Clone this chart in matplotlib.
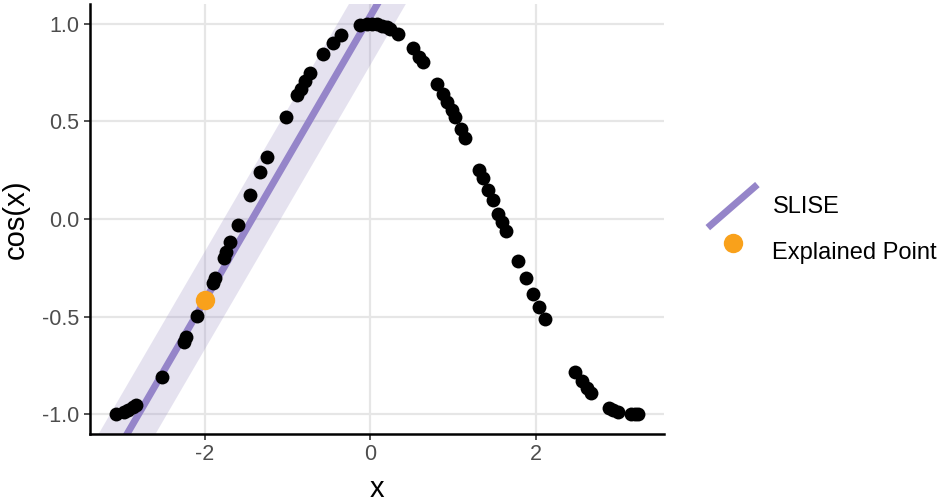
import matplotlib
matplotlib.use("Agg")
import matplotlib.pyplot as plt
from matplotlib.legend_handler import HandlerBase
from matplotlib.lines import Line2D
import numpy as np

plt.rcParams['font.family'] = ['Liberation Sans', 'DejaVu Sans']
plt.rcParams['axes.unicode_minus'] = False

# données
x_vals = [-3.07, -2.98, -2.92, -2.86, -2.83, -2.515, -2.25, -2.22, -2.09,
          -1.905, -1.877, -1.77, -1.74, -1.69, -1.60, -1.45, -1.33, -1.25, -1.02,
          -0.88, -0.84, -0.79, -0.73, -0.57, -0.45, -0.35, -0.12, -0.04,
          0.02, 0.08, 0.14, 0.20, 0.24, 0.33, 0.51, 0.59, 0.64, 0.81,
          0.875, 0.93, 0.98, 1.02, 1.095, 1.14, 1.315, 1.36, 1.42, 1.475,
          1.545, 1.585, 1.635, 1.785, 1.875, 1.965, 2.04, 2.105,
          2.47, 2.55, 2.61, 2.67, 2.88, 2.93, 2.99, 3.15, 3.19, 3.23]
y_vals = [-0.997, -0.987, -0.976, -0.962, -0.952, -0.809, -0.628, -0.605, -0.496,
          -0.328, -0.302, -0.198, -0.168, -0.119, -0.029, 0.121, 0.238, 0.315, 0.523,
          0.637, 0.667, 0.704, 0.745, 0.842, 0.900, 0.939, 0.993, 0.999,
          1.0, 0.997, 0.990, 0.980, 0.971, 0.946, 0.873, 0.831, 0.802, 0.689,
          0.641, 0.598, 0.557, 0.523, 0.458, 0.416, 0.253, 0.209, 0.150, 0.095,
          0.026, -0.014, -0.064, -0.213, -0.300, -0.384, -0.452, -0.510,
          -0.783, -0.830, -0.863, -0.891, -0.967, -0.978, -0.988, -1.0, -0.999, -0.997]

# point expliqué et modèle SLISE
explained_x = -2.0
explained_y = -0.416
slise_intercept = 1.038
slise_slope = 0.728
slise_epsilon = 0.25

xticks = [-2, 0, 2]
yticks = [-1.0, -0.5, 0.0, 0.5, 1.0]

purple = '#9585c9'
band_color = '#998ec3'
orange = '#f9a11b'


class DiagonalHandler(HandlerBase):
    # clé de légende en diagonale, comme geom_abline
    def create_artists(self, legend, orig_handle, xdescent, ydescent,
                       width, height, fontsize, trans):
        l = Line2D([-xdescent, -xdescent + width], [-ydescent, -ydescent + height],
                   color=orig_handle.get_color(), lw=orig_handle.get_linewidth(),
                   solid_capstyle='butt')
        l.set_transform(trans)
        return [l]


fig = plt.figure(figsize=(9.45, 5.04), dpi=100)
ax = fig.add_axes([0.0952, 0.139, 0.6074, 0.853])

xs = np.array([-5.0, 5.0])
ys = slise_intercept + slise_slope * xs
ax.fill_between(xs, ys - slise_epsilon, ys + slise_epsilon, color=band_color,
                alpha=0.25, lw=0, zorder=1)
slise_line, = ax.plot(xs, ys, color=purple, lw=5, solid_capstyle='butt',
                      zorder=2, label='SLISE')

ax.scatter(x_vals, y_vals, s=100, color='black', lw=0, zorder=3)
expl = ax.scatter([explained_x], [explained_y], s=195, color=orange, lw=0,
                  zorder=4, label='Explained Point')

ax.set_xlim(-3.385, 3.545)
ax.set_ylim(-1.1, 1.1)
ax.set_xticks(xticks)
ax.set_yticks(yticks)
ax.set_yticklabels(['%.1f' % v for v in yticks])

ax.grid(True, color='#e6e6e6', lw=1.6, zorder=0)
ax.set_axisbelow(True)
for s in ['top', 'right']:
    ax.spines[s].set_visible(False)
for s in ['left', 'bottom']:
    ax.spines[s].set_linewidth(1.8)
    ax.spines[s].set_color('black')
ax.tick_params(length=4.5, width=1.2, color='#333333', labelcolor='#4d4d4d',
               labelsize=15.5, pad=3)

ax.set_xlabel('x', fontsize=21, labelpad=7)
ax.set_ylabel('cos(x)', fontsize=21, labelpad=9)

fig.legend([slise_line, expl], ['SLISE', 'Explained Point'],
           handler_map={Line2D: DiagonalHandler()},
           loc='center left', bbox_to_anchor=(0.749, 0.546),
           frameon=False, fontsize=17, borderpad=0, borderaxespad=0,
           handlelength=2.1, handleheight=2.43, handletextpad=0.64,
           labelspacing=0.1, scatterpoints=1)

fig.savefig('out.png', dpi=100)
